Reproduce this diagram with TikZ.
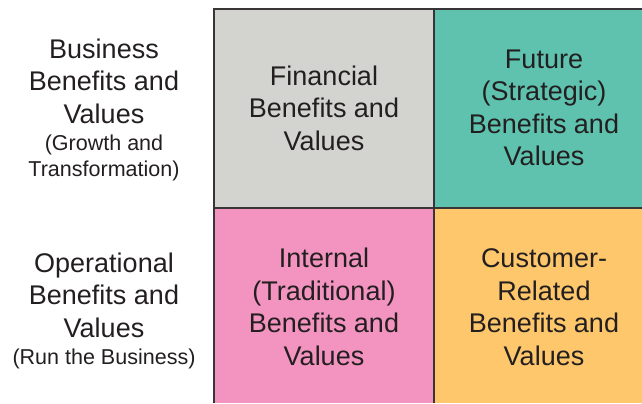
\documentclass[tikz,border=0pt]{standalone}
\usepackage{fontspec}
\setmainfont{Liberation Sans}
\usetikzlibrary{positioning}
\definecolor{cellgray}{RGB}{211,212,208}
\definecolor{cellteal}{RGB}{94,194,174}
\definecolor{cellpink}{RGB}{243,148,192}
\definecolor{cellorange}{RGB}{254,199,107}
\definecolor{inkdark}{RGB}{35,31,32}

\begin{document}
\begin{tikzpicture}[x=0.025cm,y=-0.025cm,
  cell/.style={align=center,text=inkdark,inner sep=0pt,font=\fontsize{19.2}{23.1}\selectfont},
  side/.style={cell},
  sub/.style={align=center,text=inkdark,inner sep=0pt,font=\fontsize{15.3}{18.5}\selectfont},
  gridline/.style={draw=inkdark!90,line width=1.8pt}]
  \useasboundingbox (0,0) rectangle (642,403);
  % quadrants
  \fill[cellgray]   (214,9)   rectangle (434,208);
  \fill[cellteal]   (434,9)   rectangle (642,208);
  \fill[cellpink]   (214,208) rectangle (434,403);
  \fill[cellorange] (434,208) rectangle (642,403);
  \draw[gridline] (214,403) -- (214,9) -- (642,9);
  \draw[gridline] (434,9) -- (434,403);
  \draw[gridline] (214,208) -- (642,208);
  % cell texts
  \node[cell] (fin)  at (324,108) {Financial\\Benefits and\\Values};
  \node[cell] (fut)  at (544,108) {Future\\(Strategic)\\Benefits and\\Values};
  \node[cell] (int)  at (324,307) {Internal\\(Traditional)\\Benefits and\\Values};
  \node[cell] (cust) at (544,307) {Customer-\\Related\\Benefits and\\Values};
  % row labels
  \node[side] (biz) at (104,81) {Business\\Benefits and\\Values};
  \node[sub,below=8pt of biz] (bizsub) {(Growth and\\Transformation)};
  \node[side] (ops) at (104,295) {Operational\\Benefits and\\Values};
  \node[sub,below=8pt of ops] (opssub) {(Run the Business)};
\end{tikzpicture}
\end{document}
